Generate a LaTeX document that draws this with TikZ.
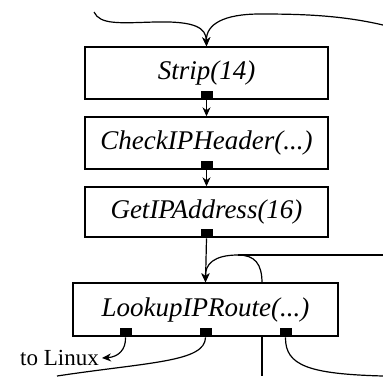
\documentclass[tikz,border=0pt]{standalone}
\usepackage{fontspec}
\setmainfont{Liberation Serif}
\usetikzlibrary{arrows.meta}
\tikzset{
  element/.style={draw, line width=1.4pt, minimum width=243pt, inner sep=0pt,
    font=\fontsize{27}{30}\selectfont\itshape},
  port/.style={fill=black, minimum width=12pt, minimum height=9pt, inner sep=0pt, anchor=south},
  conn/.style={line width=1.2pt},
  push/.style={conn, -{Stealth[length=9pt,width=8pt]}},
}
\begin{document}
\begin{tikzpicture}[x=1pt, y=-1pt]
\useasboundingbox (0,0) rectangle (383,376);

% elements
\node[element, minimum height=52pt] (strip) at (206.5,73) {Strip(14)};
\node[element, minimum height=52pt] (check) at (206.5,143) {CheckIPHeader(...)};
\node[element, minimum height=50pt] (getip) at (206.5,212) {GetIPAddress(16)};
\node[element, minimum width=265pt, minimum height=53pt] (lookup) at (205.5,309.5) {LookupIPRoute(...)};

% output ports
\node[port] (stripout) at ([yshift=-0.7pt]strip.south) {};
\node[port] (checkout) at ([yshift=-0.7pt]check.south) {};
\node[port] (getipout) at ([yshift=-0.7pt]getip.south) {};
\node[port] (lkout0) at ([xshift=-80pt,yshift=-0.7pt]lookup.south) {};
\node[port] (lkout1) at ([xshift=0pt,yshift=-0.7pt]lookup.south) {};
\node[port] (lkout2) at ([xshift=80pt,yshift=-0.7pt]lookup.south) {};

% free ends
\coordinate (inA) at (94,12);
\coordinate (inB) at (383,25);
\coordinate (loopin) at (383,255);
\coordinate (join) at (238,255);
\coordinate (pass) at (262,283);
\coordinate (passdown) at (262,376);
\coordinate (out1) at (57,376);
\coordinate (out2) at (383,376);
\node[font=\fontsize{23}{26}\selectfont, anchor=east, inner sep=0pt] (linux) at (99,358) {to Linux};

% connections into Strip
\draw[push] (inA) .. controls (100,25) and (120,23) .. (155,22)
  .. controls (196,21) and (206,28) .. (strip.north);
\draw[push] (inB) .. controls (340,15) and (300,14) .. (260,14)
  .. controls (224,14) and (206,24) .. (strip.north);

% pipeline
\draw[push] (stripout.south) -- (check.north);
\draw[push] (checkout.south) -- (getip.north);
\draw[push] (getipout.south) -- (lookup.north);

% feedback into LookupIPRoute
\draw[conn] (loopin) -- (join);
\draw[push] (join) .. controls (214,255) and (205,264) .. (lookup.north);
\draw[conn] (join) .. controls (255,255) and (262,264) .. (pass);
\draw[conn] (lookup.south -| passdown) -- (passdown);

% outputs of LookupIPRoute
\draw[push] (lkout0.south) .. controls (126,350) and (118,357) .. ([xshift=3pt]linux.east);
\draw[conn] (lkout1.south) .. controls (205,362) and (150,362) .. (out1);
\draw[conn] (lkout2.south) .. controls (285,366) and (310,374) .. (out2);
\end{tikzpicture}
\end{document}
